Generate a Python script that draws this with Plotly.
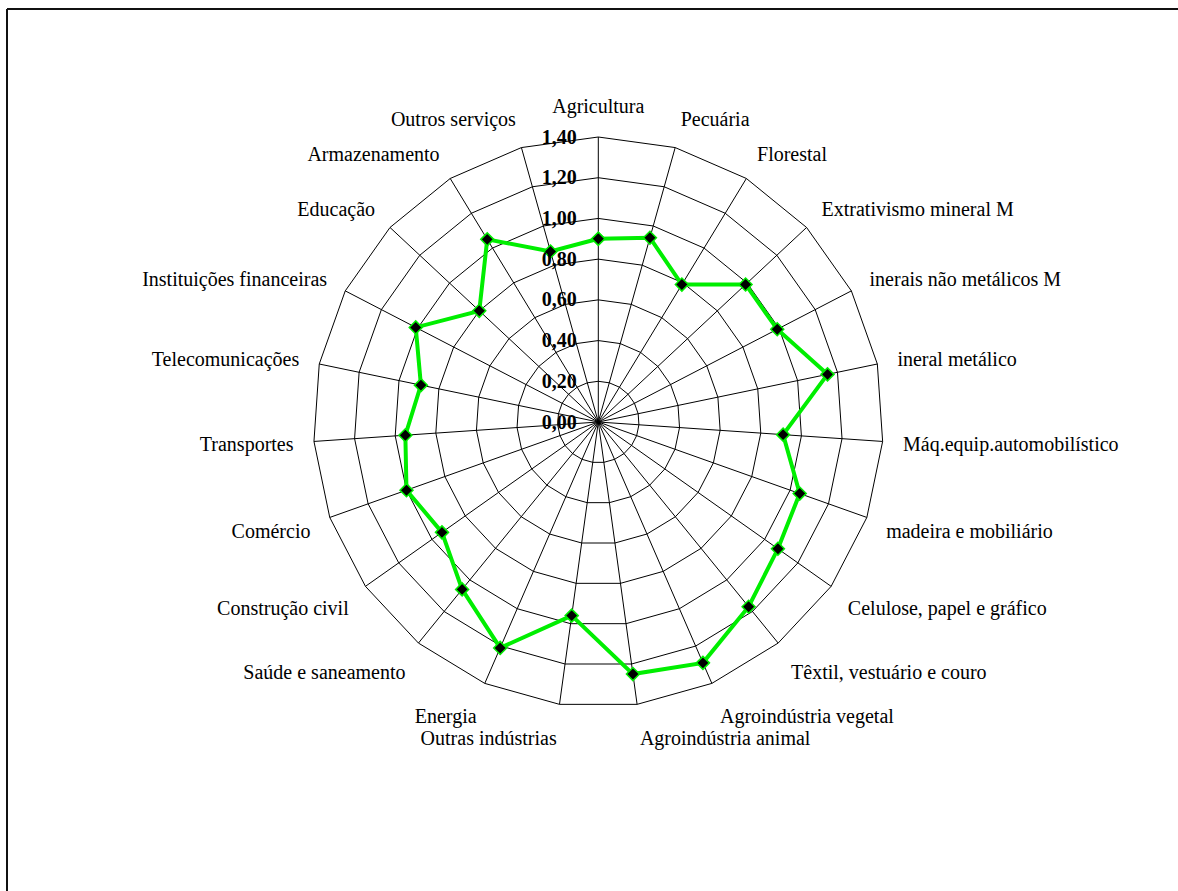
import plotly.graph_objects as go

categories = [
    "Agricultura", "Pecuária", "Florestal", "Extrativismo mineral M",
    "inerais não metálicos M", "ineral metálico", "Máq.equip.automobilístico",
    "madeira e mobiliário", "Celulose, papel e gráfico", "Têxtil, vestuário e couro",
    "Agroindústria vegetal", "Agroindústria animal", "Outras indústrias", "Energia",
    "Saúde e saneamento", "Construção civil", "Comércio", "Transportes",
    "Telecomunicações", "Instituições financeiras", "Educação", "Armazenamento",
    "Outros serviços",
]
values = [
    0.90, 0.94, 0.79, 0.99, 0.99, 1.15, 0.91, 1.05, 1.08, 1.17, 1.29, 1.25,
    0.96, 1.21, 1.06, 0.94, 1.00, 0.95, 0.89, 1.01, 0.80, 1.05, 0.87,
]
radial_ticks = [0.0, 0.2, 0.4, 0.6, 0.8, 1.0, 1.2, 1.4]

W, H = 1178, 891
cx, cy, R = 598.3, 422.0, 285.0

fig = go.Figure()
fig.add_trace(go.Scatterpolar(
    r=values + values[:1],
    theta=categories + categories[:1],
    mode="lines+markers",
    line=dict(color="#00ee00", width=4),
    marker=dict(symbol="diamond", size=10, color="black",
                line=dict(color="#00ee00", width=1.5)),
    showlegend=False,
))

font_family = "Liberation Serif, Times New Roman, serif"

fig.update_layout(
    width=W, height=H,
    margin=dict(l=0, r=0, t=0, b=0),
    paper_bgcolor="white",
    separators=",.",
    font=dict(family=font_family, color="black"),
    polar=dict(
        domain=dict(x=[(cx - R) / W, (cx + R) / W], y=[1 - (cy + R) / H, 1 - (cy - R) / H]),
        bgcolor="white",
        gridshape="linear",
        angularaxis=dict(
            rotation=90, direction="clockwise",
            categoryorder="array", categoryarray=categories,
            showline=True, linecolor="black", linewidth=1,
            showgrid=True, gridcolor="black", gridwidth=1,
            ticks="outside", ticklen=16, tickcolor="rgba(0,0,0,0)",
            tickfont=dict(family=font_family, size=20, color="black"),
        ),
        radialaxis=dict(
            range=[0, 1.4], tickvals=radial_ticks, tickformat=".2f",
            angle=90, side="counterclockwise", tickangle=90,
            showline=False,
            showgrid=True, gridcolor="black", gridwidth=1,
            ticks="outside", ticklen=14, tickcolor="rgba(0,0,0,0)",
            tickfont=dict(family=font_family, size=20, color="black", weight="bold"),
        ),
    ),
    shapes=[
        dict(type="line", xref="paper", yref="paper",
             x0=7 / W, x1=1.02, y0=1 - 9 / H, y1=1 - 9 / H,
             line=dict(color="#111111", width=2)),
        dict(type="line", xref="paper", yref="paper",
             x0=7 / W, x1=7 / W, y0=1 - 9 / H, y1=-0.02,
             line=dict(color="#111111", width=2)),
    ],
)

fig.write_html("out.html")
